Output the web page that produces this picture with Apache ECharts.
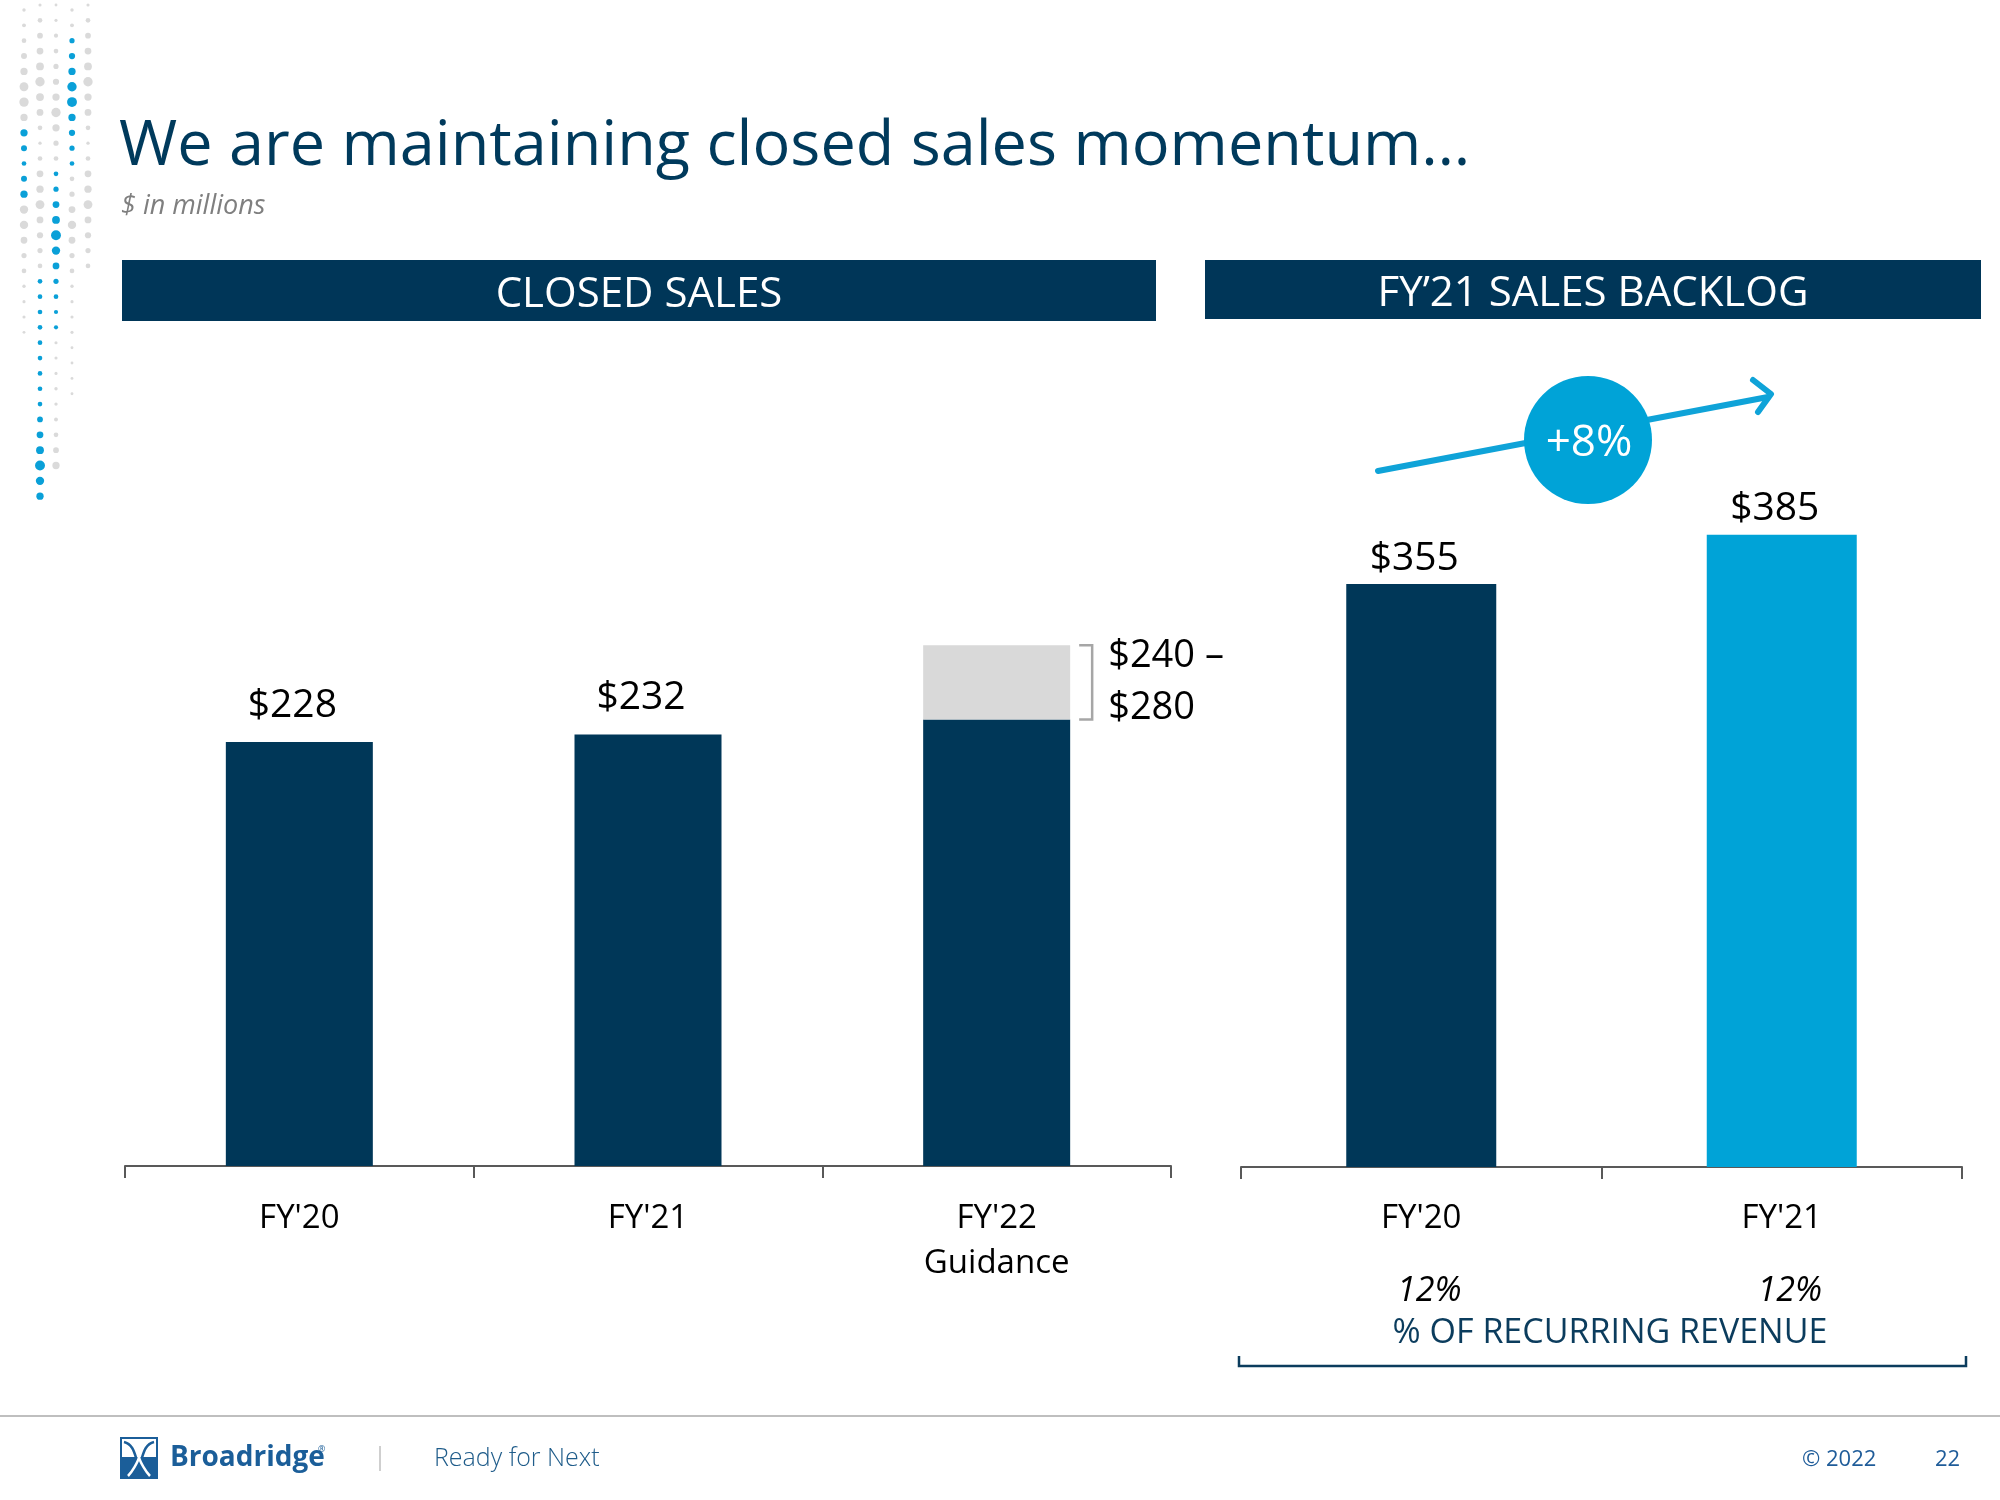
<!DOCTYPE html>
<html><head><meta charset="utf-8">
<script src="https://cdn.jsdelivr.net/npm/echarts@6/dist/echarts.min.js"></script>
<style>html,body{margin:0;padding:0;background:#fff}#c{width:2000px;height:1500px}</style>
</head><body><div id="c"></div>
<script>
// ---- data ----
const closedCategories = ["FY'20", "FY'21", "FY'22\nGuidance"];
const closedSales = [228, 232, 240];
const guidanceUpper = [null, null, 280];
const backlogCategories = ["FY'20", "FY'21"];
const backlogValues = [355, 385];
const recurringPct = [12, 12];
const backlogGrowth = '+8%';

// decorative dot pattern (radius; negative = blue)
const dotCols = [
  [1.3,1.5,1.8,2.3,2.8,3.4,3.6,2.8,-2.8,-2.3,-1.8,-2.3,-2.8,3.2,3.2,2.6,2,1.8,1.3,1.2,1.2,1.1],
  [1.2,1.8,2.2,2.6,3,3.6,3,2.6,1.8,1.3,1.8,2.6,2.8,3.4,2.6,2.4,2,1.8,-1.8,-1.8,-1.8,-1.8,-1.8,-1.8,-1.8,-1.8,-1.8,-2.2,-2.6,-3,-3.8,-3.2,-2.8],
  [1.1,1.2,1.6,1.8,2,2.4,2.8,3.6,2.8,2,1.8,-1.8,-2,-2.6,-3,-3.8,-3.2,-2.6,-2,-1.8,-1.6,-1.6,1.2,1.2,1.2,1.3,1.3,1.5,1.8,2.2,2.8],
  [1.3,1.5,-2,-2.4,-2.8,-3.6,-3.8,-2.8,-2.4,-2,-1.8,1.8,2,2.6,3.2,2.6,2,1.8,1.3,1.2,1.2,1.2,1.1,1.1,1.1,1.1],
  [1.2,1.8,2.2,2.6,3,3.6,2.8,2.6,1.8,1.3,1.8,2.6,2.8,3.4,2.6,2.4,2,1.8]
];

const NAVY = '#003758', BLUE = '#00a3d7', GREY = '#d9d9d9';
const FONT = '"Open Sans", "Noto Sans", sans-serif';

const chart = echarts.init(document.getElementById('c'), null, {renderer: 'canvas'});

const axisCommon = {
  type: 'category',
  axisLine: {lineStyle: {color: '#595959', width: 2}},
  axisTick: {show: true, length: 12, lineStyle: {color: '#595959', width: 2}},
  axisLabel: {color: '#000', fontFamily: FONT, fontSize: 33, lineHeight: 45, margin: 30}
};

chart.setOption({
  animation: false,
  backgroundColor: '#fff',
  grid: [
    {left: 125, right: 829, top: 608, bottom: 334},
    {left: 1241, right: 38, top: 510, bottom: 333}
  ],
  xAxis: [
    Object.assign({}, axisCommon, {gridIndex: 0, data: closedCategories}),
    Object.assign({}, axisCommon, {
      gridIndex: 1, data: backlogCategories,
      axisLabel: Object.assign({}, axisCommon.axisLabel, {
        formatter: (v, i) => '{n|' + v + '}\n{p|' + recurringPct[i] + '%}',
        rich: {
          n: {fontFamily: FONT, fontSize: 33, lineHeight: 44, color: '#000'},
          p: {fontFamily: FONT, fontSize: 34, fontStyle: 'italic', lineHeight: 100, color: '#000', padding: [0, 0, 0, 16]}
        }
      })
    })
  ],
  yAxis: [
    {type: 'value', gridIndex: 0, min: 0, max: 300, show: false},
    {type: 'value', gridIndex: 1, min: 0, max: 400, show: false}
  ],
  series: [
    {
      name: 'Closed sales', type: 'bar', xAxisIndex: 0, yAxisIndex: 0, stack: 'cs',
      barWidth: 147, data: closedSales,
      itemStyle: {color: NAVY},
      label: {
        show: true, position: 'top', distance: 17, offset: [-7, 0], color: '#000',
        fontFamily: FONT, fontSize: 39,
        formatter: p => guidanceUpper[p.dataIndex] != null ? '' : '$' + p.value
      }
    },
    {
      name: 'Guidance range', type: 'bar', xAxisIndex: 0, yAxisIndex: 0, stack: 'cs',
      barWidth: 147,
      data: guidanceUpper.map((u, i) => u == null ? null : u - closedSales[i]),
      itemStyle: {color: GREY},
      label: {
        show: true, position: 'right', distance: 38, color: '#000', align: 'left',
        fontFamily: FONT, fontSize: 38, lineHeight: 52,
        formatter: p => '$' + closedSales[p.dataIndex] + ' \u2013\n$' + guidanceUpper[p.dataIndex]
      }
    },
    {
      name: 'Sales backlog', type: 'bar', xAxisIndex: 1, yAxisIndex: 1,
      barWidth: 150, data: backlogValues,
      itemStyle: {color: p => p.dataIndex === backlogValues.length - 1 ? BLUE : NAVY},
      label: {
        show: true, position: 'top', distance: 6, offset: [-7, 0], color: '#000',
        fontFamily: FONT, fontSize: 39,
        formatter: p => '$' + p.value
      }
    }
  ]
});

// ---- annotation graphics ----
const g = [];
// dots
const colX = [24, 40, 56, 72, 88];
const colY0 = [10, 5, 5, 10, 5];
dotCols.forEach((col, ci) => {
  col.forEach((r, ri) => {
    g.push({type: 'circle', silent: true,
      shape: {cx: colX[ci], cy: colY0[ci] + ri * 15.35, r: Math.abs(r) * 1.3},
      style: {fill: r < 0 ? '#0aa0d8' : '#dadada'}});
  });
});
// title and subtitle
g.push({type: 'text', style: {text: 'We are maintaining closed sales momentum\u2026', x: 119, y: 147,
  fontFamily: FONT, fontSize: 63, fill: '#003a5c', verticalAlign: 'middle', align: 'left'}});
g.push({type: 'text', style: {text: '$ in millions', x: 121, y: 206,
  fontFamily: FONT, fontSize: 27, fontStyle: 'italic', fill: '#7f7f7f', verticalAlign: 'middle'}});
// header bars
g.push({type: 'rect', shape: {x: 122, y: 260, width: 1034, height: 61}, style: {fill: '#003658'}});
g.push({type: 'rect', shape: {x: 1205, y: 260, width: 776, height: 59}, style: {fill: '#003658'}});
g.push({type: 'text', style: {text: 'CLOSED SALES', x: 639, y: 295, fontFamily: FONT, fontSize: 42,
  fill: '#fff', align: 'center', verticalAlign: 'middle'}});
g.push({type: 'text', style: {text: 'FY\u201921 SALES BACKLOG', x: 1593, y: 294, fontFamily: FONT, fontSize: 42,
  fill: '#fff', align: 'center', verticalAlign: 'middle'}});

// guidance bracket, positioned from the data scale
const gi = guidanceUpper.findIndex(v => v != null);
const pTop = chart.convertToPixel({gridIndex: 0}, [gi, guidanceUpper[gi]]);
const pBot = chart.convertToPixel({gridIndex: 0}, [gi, closedSales[gi]]);
const barRight = pTop[0] + 147 / 2;
g.push({type: 'polyline', shape: {points: [[barRight + 9, pTop[1]], [barRight + 22, pTop[1]], [barRight + 22, pBot[1]], [barRight + 9, pBot[1]]]},
  style: {stroke: '#a6a6a6', lineWidth: 2.5, fill: null}});

// growth arrow
g.push({type: 'line', shape: {x1: 1378, y1: 471, x2: 1768, y2: 397}, style: {stroke: '#0fa3d8', lineWidth: 6, lineCap: 'round'}});
g.push({type: 'polyline', shape: {points: [[1753, 380], [1771, 394], [1758, 412]]}, style: {stroke: '#0fa3d8', lineWidth: 6, lineCap: 'round', lineJoin: 'round', fill: null}});
g.push({type: 'circle', shape: {cx: 1588, cy: 440, r: 64}, style: {fill: '#00a3d7'}});
g.push({type: 'text', style: {text: backlogGrowth, x: 1589, y: 443, fontFamily: FONT, fontSize: 44,
  fill: '#fff', align: 'center', verticalAlign: 'middle'}});

// recurring revenue caption and bracket
g.push({type: 'text', style: {text: '% OF RECURRING REVENUE', x: 1610, y: 1333, fontFamily: FONT, fontSize: 34,
  fill: '#0b3c5d', align: 'center', verticalAlign: 'middle'}});
g.push({type: 'polyline', shape: {points: [[1239, 1356], [1239, 1366], [1966, 1366], [1966, 1356]]},
  style: {stroke: '#0b3c5d', lineWidth: 2.5, fill: null}});

// footer
g.push({type: 'line', shape: {x1: 0, y1: 1416, x2: 2000, y2: 1416}, style: {stroke: '#bfbfbf', lineWidth: 2}});
// logo
g.push({type: 'rect', shape: {x: 121, y: 1438, width: 36, height: 40}, style: {fill: '#fff', stroke: '#1b5e99', lineWidth: 2}});
g.push({type: 'rect', shape: {x: 121, y: 1457, width: 36, height: 21}, style: {fill: '#1b5e99'}});
g.push({type: 'bezierCurve', shape: {x1: 124, y1: 1442, x2: 150, y2: 1476, cpx1: 140, cpy1: 1446, cpx2: 132, cpy2: 1470}, style: {stroke: '#1b5e99', lineWidth: 2.5, fill: null}});
g.push({type: 'bezierCurve', shape: {x1: 154, y1: 1442, x2: 128, y2: 1476, cpx1: 138, cpy1: 1446, cpx2: 146, cpy2: 1470}, style: {stroke: '#1b5e99', lineWidth: 2.5, fill: null}});
g.push({type: 'bezierCurve', shape: {x1: 139, y1: 1457, x2: 150, y2: 1476, cpx1: 140, cpy1: 1462, cpx2: 146, cpy2: 1472}, style: {stroke: '#fff', lineWidth: 2.5, fill: null}});
g.push({type: 'bezierCurve', shape: {x1: 139, y1: 1457, x2: 128, y2: 1476, cpx1: 138, cpy1: 1462, cpx2: 132, cpy2: 1472}, style: {stroke: '#fff', lineWidth: 2.5, fill: null}});
g.push({type: 'text', style: {text: 'Broadridge', x: 170, y: 1458, fontFamily: FONT, fontSize: 28, fontWeight: 'bold',
  fill: '#1b5e99', verticalAlign: 'middle'}});
g.push({type: 'text', style: {text: '\u00ae', x: 318, y: 1449, fontFamily: FONT, fontSize: 9, fill: '#1b5e99', verticalAlign: 'middle'}});
g.push({type: 'line', shape: {x1: 380, y1: 1446, x2: 380, y2: 1471}, style: {stroke: '#bfbfbf', lineWidth: 1.5}});
g.push({type: 'text', style: {text: 'Ready for Next', x: 434, y: 1459, fontFamily: FONT, fontSize: 25, fontWeight: 300,
  fill: '#1f5c8a', verticalAlign: 'middle'}});
g.push({type: 'text', style: {text: '\u00a9 2022', x: 1802, y: 1460, fontFamily: FONT, fontSize: 22,
  fill: '#1f5c99', verticalAlign: 'middle'}});
g.push({type: 'text', style: {text: '22', x: 1935, y: 1460, fontFamily: FONT, fontSize: 22,
  fill: '#1f5c99', verticalAlign: 'middle'}});

chart.setOption({graphic: g});
</script></body></html>
